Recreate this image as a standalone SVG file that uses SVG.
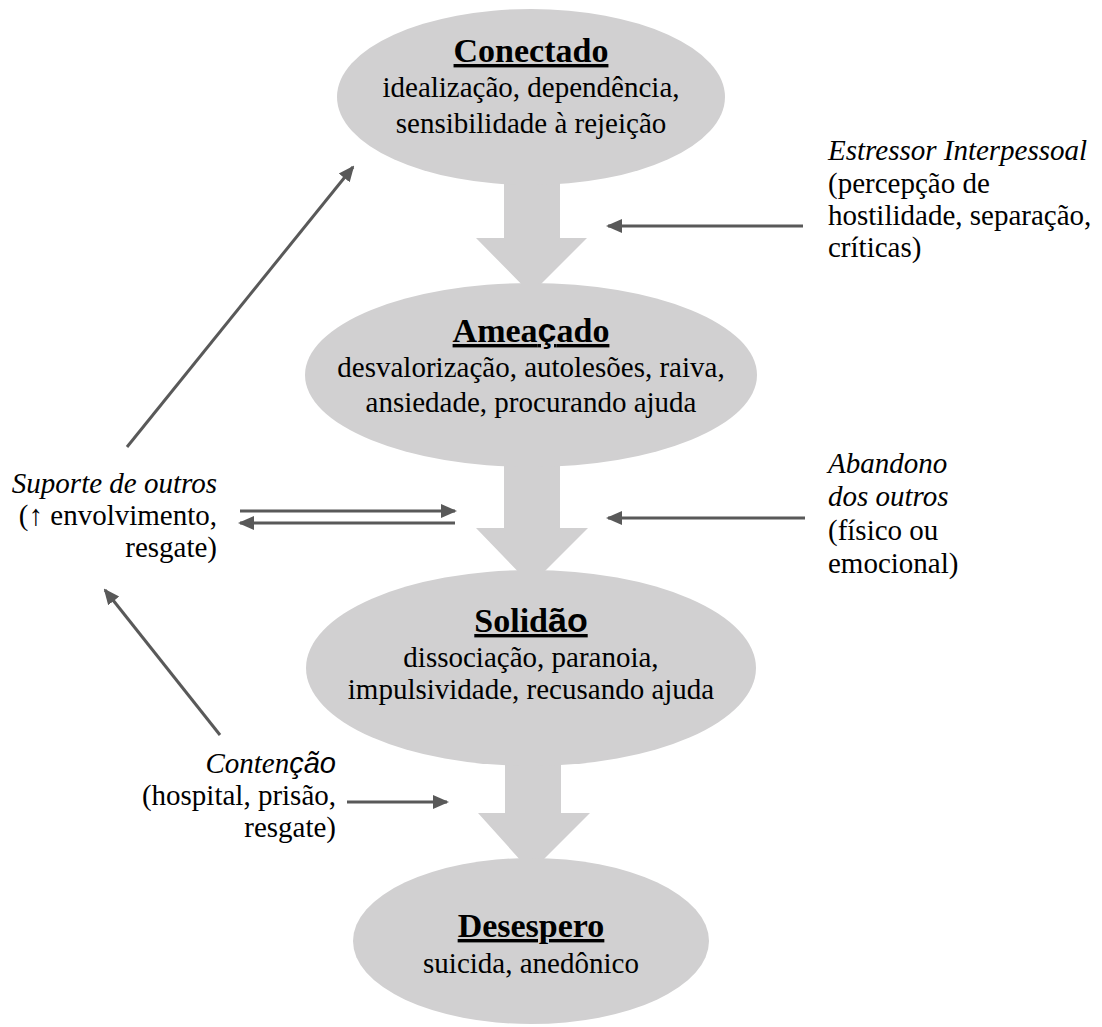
<svg xmlns="http://www.w3.org/2000/svg" width="1102" height="1027" viewBox="0 0 1102 1027">
<defs>
<marker id="ah" markerUnits="userSpaceOnUse" markerWidth="16" markerHeight="16" viewBox="0 0 16 16" refX="14" refY="8" orient="auto">
<path d="M0,1 L16,8 L0,15 Z" fill="#595959"/>
</marker>
</defs>
<rect width="1102" height="1027" fill="#fff"/>
<g id="flow-arrows" fill="#d1d0d1">
<path d="M504,170 H560 V238 H587 L531,294 L476,238 H504 Z"/>
<path d="M504,455 H560 V528 H588 L531,585 L476,528 H504 Z"/>
<path d="M505,750 H561 V813 H590 L531,872 L478,813 H505 Z"/>
</g>
<g id="node-conectado">
<ellipse fill="#d1d0d1" cx="531" cy="97" rx="194" ry="88"/>
<text font-family="Liberation Serif" font-size="34" font-weight="bold" text-decoration="underline" x="531" y="62" text-anchor="middle">Conectado</text>
<text font-family="Liberation Serif" font-size="29" x="531" y="97" text-anchor="middle">idealiza&#231;&#227;o, depend&#234;ncia,</text>
<text font-family="Liberation Serif" font-size="29" x="531" y="133" text-anchor="middle">sensibilidade &#224; rejei&#231;&#227;o</text>
</g>
<g id="node-ameacado">
<ellipse fill="#d1d0d1" cx="531" cy="375" rx="226" ry="92"/>
<text font-family="Liberation Serif" font-size="34" font-weight="bold" text-decoration="underline" x="531" y="342" text-anchor="middle">Amea<tspan font-family="Liberation Sans">&#231;</tspan>ado</text>
<text font-family="Liberation Serif" font-size="29" x="531" y="377" text-anchor="middle">desvaloriza&#231;&#227;o, autoles&#245;es, raiva,</text>
<text font-family="Liberation Serif" font-size="29" x="531" y="412" text-anchor="middle">ansiedade, procurando ajuda</text>
</g>
<g id="node-solidao">
<ellipse fill="#d1d0d1" cx="531" cy="668" rx="225" ry="98"/>
<text font-family="Liberation Serif" font-size="34" font-weight="bold" text-decoration="underline" x="531" y="632" text-anchor="middle">Solid<tspan font-family="Liberation Sans">&#227;o</tspan></text>
<text font-family="Liberation Serif" font-size="29" x="531" y="667" text-anchor="middle">dissocia&#231;&#227;o, paranoia,</text>
<text font-family="Liberation Serif" font-size="29" x="531" y="699" text-anchor="middle">impulsividade, recusando ajuda</text>
</g>
<g id="node-desespero">
<ellipse fill="#d1d0d1" cx="531" cy="941" rx="178" ry="83"/>
<text font-family="Liberation Serif" font-size="34" font-weight="bold" text-decoration="underline" x="531" y="937" text-anchor="middle">Desespero</text>
<text font-family="Liberation Serif" font-size="29" x="531" y="973" text-anchor="middle">suicida, aned&#244;nico</text>
</g>
<g id="label-estressor">
<text font-family="Liberation Serif" font-size="29" font-style="italic" x="828" y="160">Estressor Interpessoal</text>
<text font-family="Liberation Serif" font-size="29" x="828" y="193">(percep&#231;&#227;o de</text>
<text font-family="Liberation Serif" font-size="29" x="828" y="225">hostilidade, separa&#231;&#227;o,</text>
<text font-family="Liberation Serif" font-size="29" x="828" y="257">cr&#237;ticas)</text>
</g>
<g id="label-abandono">
<text font-family="Liberation Serif" font-size="29" font-style="italic" x="828" y="473">Abandono</text>
<text font-family="Liberation Serif" font-size="29" font-style="italic" x="828" y="506">dos outros</text>
<text font-family="Liberation Serif" font-size="29" x="828" y="540">(f&#237;sico ou</text>
<text font-family="Liberation Serif" font-size="29" x="828" y="573">emocional)</text>
</g>
<g id="label-suporte">
<text font-family="Liberation Serif" font-size="29" font-style="italic" x="217" y="493" text-anchor="end">Suporte de outros</text>
<text font-family="Liberation Serif" font-size="29" x="217" y="525" text-anchor="end">(&#8593; envolvimento,</text>
<text font-family="Liberation Serif" font-size="29" x="217" y="557" text-anchor="end">resgate)</text>
</g>
<g id="label-contencao">
<text font-family="Liberation Serif" font-size="29" font-style="italic" x="336" y="773" text-anchor="end">Conten<tspan font-family="Liberation Sans">&#231;&#227;o</tspan></text>
<text font-family="Liberation Serif" font-size="29" x="336" y="805" text-anchor="end">(hospital, pris&#227;o,</text>
<text font-family="Liberation Serif" font-size="29" x="336" y="837" text-anchor="end">resgate)</text>
</g>
<g id="connectors" stroke="#595959" stroke-width="3" fill="none">
<line x1="803" y1="226" x2="608" y2="226" marker-end="url(#ah)"/>
<line x1="805" y1="518" x2="608" y2="518" marker-end="url(#ah)"/>
<line x1="240" y1="511" x2="455" y2="511" marker-end="url(#ah)"/>
<line x1="455" y1="523" x2="240" y2="523" marker-end="url(#ah)"/>
<line x1="347" y1="802" x2="447" y2="802" marker-end="url(#ah)"/>
<line x1="127" y1="447" x2="353" y2="167" marker-end="url(#ah)"/>
<line x1="220" y1="735" x2="105" y2="590" marker-end="url(#ah)"/>
</g>
</svg>
